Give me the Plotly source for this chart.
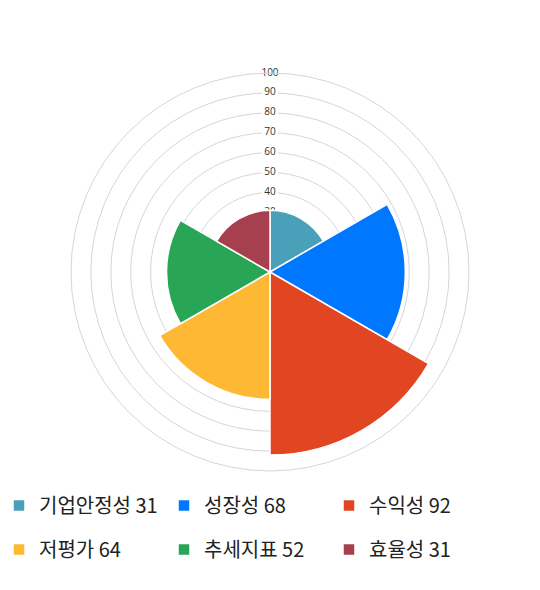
import plotly.graph_objects as go

categories = ['기업안정성', '성장성', '수익성', '저평가', '추세지표', '효율성']
scores = [31, 68, 92, 64, 52, 31]
colors = ['#4AA0B8', '#0077FF', '#E24521', '#FFB833', '#28A655', '#A6404E']
angles = [30, 90, 150, 210, 270, 330]
tick_vals = [10, 20, 30, 40, 50, 60, 70, 80, 90, 100]

fig = go.Figure()

# radial tick labels on the lower polar, centred on the vertical axis
fig.add_trace(go.Scatterpolar(
    r=tick_vals,
    theta=[0] * len(tick_vals),
    mode='markers+text',
    text=[str(v) for v in tick_vals],
    textposition='middle center',
    textfont=dict(family='Open Sans', size=10, color='#333333'),
    marker=dict(symbol='square', size=16, color='white'),
    showlegend=False,
    hoverinfo='skip',
    subplot='polar',
))

# bars on the upper polar so they cover the inner labels
for i, (name, val, col, ang) in enumerate(zip(categories, scores, colors, angles)):
    fig.add_trace(go.Barpolar(
        r=[val],
        theta=[ang],
        width=[60],
        name='%s %d' % (name, val),
        marker=dict(color=col, line=dict(color='white', width=1.5)),
        legend='legend' if i < 3 else 'legend2',
        hoverinfo='skip',
        subplot='polar2',
    ))

dom = dict(x=[63 / 540, 461 / 540], y=[1 - 463 / 590, 1 - 65 / 590])
ang_common = dict(direction='clockwise', rotation=90, showticklabels=False,
                  ticks='', showgrid=False)

legend_style = dict(
    orientation='h',
    x=0,
    xanchor='left',
    yanchor='top',
    indentation=-9,
    font=dict(family='Noto Sans CJK KR', size=20, color='#222222'),
    entrywidth=129,
    entrywidthmode='pixels',
    itemwidth=30,
    bgcolor='rgba(0,0,0,0)',
)

fig.update_layout(
    width=540,
    height=590,
    margin=dict(l=0, r=0, t=0, b=0, autoexpand=False),
    paper_bgcolor='white',
    plot_bgcolor='white',
    font=dict(family='Noto Sans CJK KR'),
    polar=dict(
        domain=dom,
        bgcolor='white',
        radialaxis=dict(range=[0, 100], tickvals=tick_vals, showticklabels=False,
                        showline=False, ticks='', gridcolor='#D6D6D6', gridwidth=1),
        angularaxis=dict(ang_common, showline=True, linecolor='#D6D6D6', linewidth=1),
    ),
    polar2=dict(
        domain=dom,
        bgcolor='rgba(0,0,0,0)',
        barmode='overlay',
        radialaxis=dict(range=[0, 100], showticklabels=False, showline=False,
                        ticks='', showgrid=False),
        angularaxis=dict(ang_common, showline=False),
    ),
    legend=dict(legend_style, y=1 - 478 / 590),
    legend2=dict(legend_style, y=1 - 522 / 590),
    showlegend=True,
)

fig.write_html('out.html')
